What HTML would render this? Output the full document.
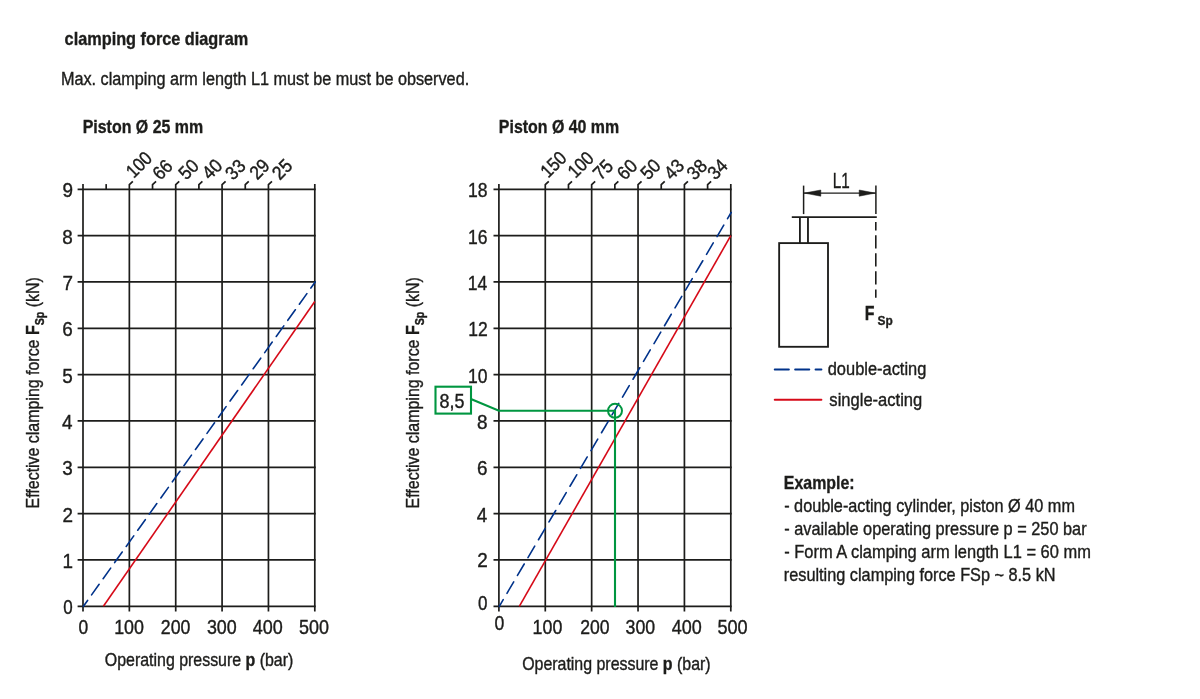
<!DOCTYPE html>
<html><head><meta charset="utf-8"><title>clamping force diagram</title>
<style>html,body{margin:0;padding:0;background:#fff}svg{display:block}text{font-family:"Liberation Sans",sans-serif;stroke:#1d1d1b;stroke-width:.4px}text[font-weight=bold]{stroke-width:.35px}</style></head>
<body><svg width="1200" height="699" viewBox="0 0 1200 699">
<rect width="1200" height="699" fill="#fff"/>
<text transform="translate(64.60,45.20) scale(0.8658,1)" font-size="18.8" font-weight="bold" fill="#1d1d1b" >clamping force diagram</text>
<text transform="translate(60.91,85.10) scale(0.8631,1)" font-size="18.8" fill="#1d1d1b" >Max. clamping arm length L1 must be must be observed.</text>
<text transform="translate(82.69,132.60) scale(0.8485,1)" font-size="18.8" font-weight="bold" fill="#1d1d1b" >Piston Ø 25 mm</text>
<text transform="translate(498.84,132.70) scale(0.8477,1)" font-size="18.8" font-weight="bold" fill="#1d1d1b" >Piston Ø 40 mm</text>
<line x1="83.00" y1="184.00" x2="83.00" y2="611.50" stroke="#1d1d1b" stroke-width="1.7" />
<line x1="129.36" y1="189.30" x2="129.36" y2="611.50" stroke="#1d1d1b" stroke-width="1.7" />
<line x1="175.72" y1="189.30" x2="175.72" y2="611.50" stroke="#1d1d1b" stroke-width="1.7" />
<line x1="222.08" y1="189.30" x2="222.08" y2="611.50" stroke="#1d1d1b" stroke-width="1.7" />
<line x1="268.44" y1="189.30" x2="268.44" y2="611.50" stroke="#1d1d1b" stroke-width="1.7" />
<line x1="314.80" y1="184.00" x2="314.80" y2="611.50" stroke="#1d1d1b" stroke-width="1.7" />
<line x1="77.60" y1="606.30" x2="315.65" y2="606.30" stroke="#1d1d1b" stroke-width="1.7" />
<line x1="77.60" y1="559.97" x2="315.65" y2="559.97" stroke="#1d1d1b" stroke-width="1.7" />
<line x1="77.60" y1="513.63" x2="315.65" y2="513.63" stroke="#1d1d1b" stroke-width="1.7" />
<line x1="77.60" y1="467.30" x2="315.65" y2="467.30" stroke="#1d1d1b" stroke-width="1.7" />
<line x1="77.60" y1="420.97" x2="315.65" y2="420.97" stroke="#1d1d1b" stroke-width="1.7" />
<line x1="77.60" y1="374.63" x2="315.65" y2="374.63" stroke="#1d1d1b" stroke-width="1.7" />
<line x1="77.60" y1="328.30" x2="315.65" y2="328.30" stroke="#1d1d1b" stroke-width="1.7" />
<line x1="77.60" y1="281.97" x2="315.65" y2="281.97" stroke="#1d1d1b" stroke-width="1.7" />
<line x1="77.60" y1="235.63" x2="315.65" y2="235.63" stroke="#1d1d1b" stroke-width="1.7" />
<line x1="77.60" y1="189.30" x2="315.65" y2="189.30" stroke="#1d1d1b" stroke-width="1.7" />
<line x1="106.18" y1="189.30" x2="106.18" y2="184.10" stroke="#1d1d1b" stroke-width="1.7" />
<path d="M129.36 189.30V184.70L132.86 181.30" stroke="#1d1d1b" stroke-width="1.7" fill="none" />
<text transform="translate(133.65,178.95) rotate(-45) scale(0.87,1)" font-size="19.0" fill="#1d1d1b">100</text>
<path d="M152.54 189.30V184.70L156.04 181.30" stroke="#1d1d1b" stroke-width="1.7" fill="none" />
<text transform="translate(160.21,181.03) rotate(-45) scale(0.92,1)" font-size="19.0" fill="#1d1d1b">66</text>
<path d="M175.72 189.30V184.70L179.22 181.30" stroke="#1d1d1b" stroke-width="1.7" fill="none" />
<text transform="translate(186.36,180.83) rotate(-45) scale(0.92,1)" font-size="19.0" fill="#1d1d1b">50</text>
<path d="M198.90 189.30V184.70L202.40 181.30" stroke="#1d1d1b" stroke-width="1.7" fill="none" />
<text transform="translate(209.80,180.62) rotate(-45) scale(0.92,1)" font-size="19.0" fill="#1d1d1b">40</text>
<path d="M222.08 189.30V184.70L225.58 181.30" stroke="#1d1d1b" stroke-width="1.7" fill="none" />
<text transform="translate(233.08,180.93) rotate(-45) scale(0.92,1)" font-size="19.0" fill="#1d1d1b">33</text>
<path d="M245.26 189.30V184.70L248.76 181.30" stroke="#1d1d1b" stroke-width="1.7" fill="none" />
<text transform="translate(257.16,180.55) rotate(-45) scale(0.92,1)" font-size="19.0" fill="#1d1d1b">29</text>
<path d="M268.44 189.30V184.70L271.94 181.30" stroke="#1d1d1b" stroke-width="1.7" fill="none" />
<text transform="translate(279.77,180.64) rotate(-45) scale(0.92,1)" font-size="19.0" fill="#1d1d1b">25</text>
<text transform="translate(63.19,614.30) scale(0.8100,1)" font-size="21.0" fill="#1d1d1b">0</text>
<text transform="translate(62.38,567.97) scale(0.9000,1)" font-size="21.0" fill="#1d1d1b">1</text>
<text transform="translate(62.44,521.63) scale(0.9000,1)" font-size="21.0" fill="#1d1d1b">2</text>
<text transform="translate(62.33,475.30) scale(0.9000,1)" font-size="21.0" fill="#1d1d1b">3</text>
<text transform="translate(62.04,428.97) scale(0.9000,1)" font-size="21.0" fill="#1d1d1b">4</text>
<text transform="translate(62.27,382.63) scale(0.9000,1)" font-size="21.0" fill="#1d1d1b">5</text>
<text transform="translate(62.33,336.30) scale(0.9000,1)" font-size="21.0" fill="#1d1d1b">6</text>
<text transform="translate(62.44,289.97) scale(0.9000,1)" font-size="21.0" fill="#1d1d1b">7</text>
<text transform="translate(62.27,243.63) scale(0.9000,1)" font-size="21.0" fill="#1d1d1b">8</text>
<text transform="translate(62.38,197.30) scale(0.9000,1)" font-size="21.0" fill="#1d1d1b">9</text>
<text transform="translate(78.56,633.70) scale(0.8459,1)" font-size="20.6" fill="#1d1d1b" >0</text>
<text transform="translate(114.19,633.70) scale(0.8673,1)" font-size="20.6" fill="#1d1d1b" >100</text>
<text transform="translate(160.84,633.70) scale(0.8615,1)" font-size="20.6" fill="#1d1d1b" >200</text>
<text transform="translate(206.90,633.70) scale(0.8672,1)" font-size="20.6" fill="#1d1d1b" >300</text>
<text transform="translate(252.77,633.70) scale(0.8741,1)" font-size="20.6" fill="#1d1d1b" >400</text>
<text transform="translate(298.94,633.70) scale(0.8719,1)" font-size="20.6" fill="#1d1d1b" >500</text>
<line x1="83.40" y1="606.30" x2="315.20" y2="281.97" stroke="#00328a" stroke-width="1.6" stroke-linecap="round" stroke-dasharray="13.00 6.85" stroke-dashoffset="5.80"/>
<line x1="103.40" y1="606.30" x2="314.80" y2="301.43" stroke="#d60a18" stroke-width="1.6" />
<line x1="498.90" y1="184.00" x2="498.90" y2="611.50" stroke="#1d1d1b" stroke-width="1.7" />
<line x1="545.28" y1="189.30" x2="545.28" y2="611.50" stroke="#1d1d1b" stroke-width="1.7" />
<line x1="591.66" y1="189.30" x2="591.66" y2="611.50" stroke="#1d1d1b" stroke-width="1.7" />
<line x1="638.04" y1="189.30" x2="638.04" y2="611.50" stroke="#1d1d1b" stroke-width="1.7" />
<line x1="684.42" y1="189.30" x2="684.42" y2="611.50" stroke="#1d1d1b" stroke-width="1.7" />
<line x1="730.80" y1="184.00" x2="730.80" y2="611.50" stroke="#1d1d1b" stroke-width="1.7" />
<line x1="493.50" y1="606.30" x2="731.65" y2="606.30" stroke="#1d1d1b" stroke-width="1.7" />
<line x1="493.50" y1="559.97" x2="731.65" y2="559.97" stroke="#1d1d1b" stroke-width="1.7" />
<line x1="493.50" y1="513.63" x2="731.65" y2="513.63" stroke="#1d1d1b" stroke-width="1.7" />
<line x1="493.50" y1="467.30" x2="731.65" y2="467.30" stroke="#1d1d1b" stroke-width="1.7" />
<line x1="493.50" y1="420.97" x2="731.65" y2="420.97" stroke="#1d1d1b" stroke-width="1.7" />
<line x1="493.50" y1="374.63" x2="731.65" y2="374.63" stroke="#1d1d1b" stroke-width="1.7" />
<line x1="493.50" y1="328.30" x2="731.65" y2="328.30" stroke="#1d1d1b" stroke-width="1.7" />
<line x1="493.50" y1="281.97" x2="731.65" y2="281.97" stroke="#1d1d1b" stroke-width="1.7" />
<line x1="493.50" y1="235.63" x2="731.65" y2="235.63" stroke="#1d1d1b" stroke-width="1.7" />
<line x1="493.50" y1="189.30" x2="731.65" y2="189.30" stroke="#1d1d1b" stroke-width="1.7" />
<path d="M545.28 189.30V184.70L548.78 181.30" stroke="#1d1d1b" stroke-width="1.7" fill="none" />
<text transform="translate(548.15,178.80) rotate(-45) scale(0.87,1)" font-size="19.0" fill="#1d1d1b">150</text>
<path d="M568.47 189.30V184.70L571.97 181.30" stroke="#1d1d1b" stroke-width="1.7" fill="none" />
<text transform="translate(575.50,179.00) rotate(-45) scale(0.87,1)" font-size="19.0" fill="#1d1d1b">100</text>
<path d="M591.66 189.30V184.70L595.16 181.30" stroke="#1d1d1b" stroke-width="1.7" fill="none" />
<text transform="translate(600.63,181.08) rotate(-45) scale(0.92,1)" font-size="19.0" fill="#1d1d1b">75</text>
<path d="M614.85 189.30V184.70L618.35 181.30" stroke="#1d1d1b" stroke-width="1.7" fill="none" />
<text transform="translate(624.87,180.93) rotate(-45) scale(0.92,1)" font-size="19.0" fill="#1d1d1b">60</text>
<path d="M638.04 189.30V184.70L641.54 181.30" stroke="#1d1d1b" stroke-width="1.7" fill="none" />
<text transform="translate(648.21,180.68) rotate(-45) scale(0.92,1)" font-size="19.0" fill="#1d1d1b">50</text>
<path d="M661.23 189.30V184.70L664.73 181.30" stroke="#1d1d1b" stroke-width="1.7" fill="none" />
<text transform="translate(671.63,180.70) rotate(-45) scale(0.92,1)" font-size="19.0" fill="#1d1d1b">43</text>
<path d="M684.42 189.30V184.70L687.92 181.30" stroke="#1d1d1b" stroke-width="1.7" fill="none" />
<text transform="translate(694.53,180.94) rotate(-45) scale(0.92,1)" font-size="19.0" fill="#1d1d1b">38</text>
<path d="M707.61 189.30V184.70L711.11 181.30" stroke="#1d1d1b" stroke-width="1.7" fill="none" />
<text transform="translate(715.24,180.64) rotate(-45) scale(0.92,1)" font-size="19.0" fill="#1d1d1b">34</text>
<text transform="translate(477.99,610.40) scale(0.8100,1)" font-size="21.0" fill="#1d1d1b">0</text>
<text transform="translate(477.24,566.67) scale(0.9000,1)" font-size="21.0" fill="#1d1d1b">2</text>
<text transform="translate(476.84,521.63) scale(0.9000,1)" font-size="21.0" fill="#1d1d1b">4</text>
<text transform="translate(477.12,475.30) scale(0.9000,1)" font-size="21.0" fill="#1d1d1b">6</text>
<text transform="translate(477.07,428.97) scale(0.9000,1)" font-size="21.0" fill="#1d1d1b">8</text>
<text transform="translate(467.96,382.63) scale(0.8350,1)" font-size="21.0" fill="#1d1d1b">10</text>
<text transform="translate(468.17,336.30) scale(0.8350,1)" font-size="21.0" fill="#1d1d1b">12</text>
<text transform="translate(467.80,289.97) scale(0.8350,1)" font-size="21.0" fill="#1d1d1b">14</text>
<text transform="translate(468.06,243.63) scale(0.8350,1)" font-size="21.0" fill="#1d1d1b">16</text>
<text transform="translate(468.01,197.30) scale(0.8350,1)" font-size="21.0" fill="#1d1d1b">18</text>
<text transform="translate(494.60,629.80) scale(0.8561,1)" font-size="20.6" fill="#1d1d1b" >0</text>
<text transform="translate(532.60,633.90) scale(0.8642,1)" font-size="20.6" fill="#1d1d1b" >100</text>
<text transform="translate(580.14,633.90) scale(0.8554,1)" font-size="20.6" fill="#1d1d1b" >200</text>
<text transform="translate(625.55,633.90) scale(0.8611,1)" font-size="20.6" fill="#1d1d1b" >300</text>
<text transform="translate(671.77,633.90) scale(0.8741,1)" font-size="20.6" fill="#1d1d1b" >400</text>
<text transform="translate(717.38,633.90) scale(0.8811,1)" font-size="20.6" fill="#1d1d1b" >500</text>
<line x1="499.30" y1="606.30" x2="731.20" y2="212.47" stroke="#00328a" stroke-width="1.6" stroke-linecap="round" stroke-dasharray="13.30 7.40" stroke-dashoffset="5.60"/>
<line x1="519.31" y1="606.30" x2="730.80" y2="235.63" stroke="#d60a18" stroke-width="1.6" />
<text transform="translate(104.85,665.8) scale(0.8479,1)" font-size="18.8" fill="#1d1d1b" xml:space="preserve">Operating pressure <tspan font-weight="bold">p</tspan> (bar)</text>
<text transform="translate(522.15,669.8) scale(0.8479,1)" font-size="18.8" fill="#1d1d1b" xml:space="preserve">Operating pressure <tspan font-weight="bold">p</tspan> (bar)</text>
<text transform="translate(38.8,508.4) rotate(-90) scale(0.8481,1)" font-size="18.8" fill="#1d1d1b" xml:space="preserve">Effective clamping force <tspan font-weight="bold" font-size="18.8" dy="0">F</tspan><tspan font-weight="bold" font-size="12.6" dy="5">Sp</tspan><tspan dy="-5"> (kN)</tspan></text>
<text transform="translate(418.8,508.4) rotate(-90) scale(0.8481,1)" font-size="18.8" fill="#1d1d1b" xml:space="preserve">Effective clamping force <tspan font-weight="bold" font-size="18.8" dy="0">F</tspan><tspan font-weight="bold" font-size="12.6" dy="5">Sp</tspan><tspan dy="-5"> (kN)</tspan></text>
<rect x="435.5" y="386.7" width="35.5" height="26.9" fill="#fff" stroke="#009640" stroke-width="2.1"/>
<path d="M471.5 399.2L498.9 410.8H615.00V606.90" stroke="#009640" stroke-width="2.1" fill="none" stroke-linejoin="miter"/>
<circle cx="615.00" cy="410.8" r="7.0" fill="none" stroke="#009640" stroke-width="2.0"/>
<text transform="translate(439.52,407.70) scale(0.8957,1)" font-size="20" fill="#1d1d1b" >8,5</text>
<rect x="779.15" y="243.1" width="48.85" height="103.7" fill="none" stroke="#1d1d1b" stroke-width="1.85"/>
<line x1="799.90" y1="217.10" x2="799.90" y2="243.10" stroke="#1d1d1b" stroke-width="1.85" />
<line x1="807.97" y1="217.10" x2="807.97" y2="243.10" stroke="#1d1d1b" stroke-width="1.85" />
<line x1="791.80" y1="217.10" x2="876.80" y2="217.10" stroke="#1d1d1b" stroke-width="1.9" />
<line x1="803.60" y1="185.60" x2="803.60" y2="214.10" stroke="#1d1d1b" stroke-width="1.5" />
<line x1="875.90" y1="185.60" x2="875.90" y2="214.10" stroke="#1d1d1b" stroke-width="1.5" />
<line x1="803.60" y1="193.10" x2="875.90" y2="193.10" stroke="#1d1d1b" stroke-width="1.4" />
<path d="M804.2 193.1L820.8 190.0V196.2Z" stroke="#1d1d1b" stroke-width="0.5" fill="#1d1d1b" stroke-linejoin="miter"/>
<path d="M875.3 193.1L859.2 190.0V196.2Z" stroke="#1d1d1b" stroke-width="0.5" fill="#1d1d1b" stroke-linejoin="miter"/>
<line x1="875.8" y1="222" x2="875.8" y2="297.7" stroke="#1d1d1b" stroke-width="1.6" stroke-dasharray="13.2 4.85" stroke-dashoffset="4.8"/>
<text transform="translate(832.86,187.80) scale(0.7101,1)" font-size="21.5" fill="#1d1d1b" >L1</text>
<text transform="translate(864.86,320.40) scale(0.7579,1)" font-size="21" font-weight="bold" fill="#1d1d1b" >F</text>
<text transform="translate(877.47,324.90) scale(0.8828,1)" font-size="13.5" font-weight="bold" fill="#1d1d1b" >Sp</text>
<line x1="774.75" y1="369.5" x2="821.4" y2="369.5" stroke="#00328a" stroke-width="2" stroke-linecap="round" stroke-dasharray="14.1 6.3"/>
<line x1="774.75" y1="399.70" x2="821.40" y2="399.70" stroke="#d60a18" stroke-width="2" stroke-linecap="round"/>
<text transform="translate(827.74,375.40) scale(0.8741,1)" font-size="18.8" fill="#1d1d1b" >double-acting</text>
<text transform="translate(829.36,405.90) scale(0.8806,1)" font-size="18.8" fill="#1d1d1b" >single-acting</text>
<text transform="translate(783.84,489.20) scale(0.8479,1)" font-size="18.8" font-weight="bold" fill="#1d1d1b" >Example:</text>
<text transform="translate(784.20,511.60) scale(0.8645,1)" font-size="18.8" fill="#1d1d1b" >- double-acting cylinder, piston Ø 40 mm</text>
<text transform="translate(784.19,535.10) scale(0.8681,1)" font-size="18.8" fill="#1d1d1b" >- available operating pressure p = 250 bar</text>
<text transform="translate(784.19,557.80) scale(0.8755,1)" font-size="18.8" fill="#1d1d1b" >- Form A clamping arm length L1 = 60 mm</text>
<text transform="translate(783.82,581.00) scale(0.8657,1)" font-size="18.8" fill="#1d1d1b" >resulting clamping force FSp ~ 8.5 kN</text>
</svg></body></html>
